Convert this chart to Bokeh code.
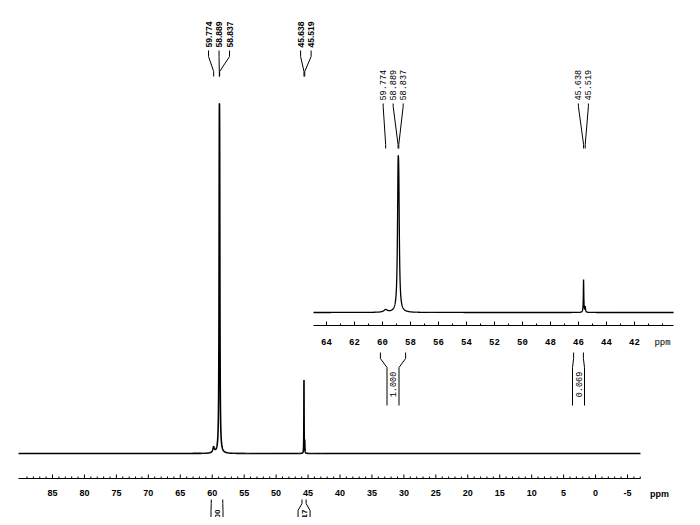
import numpy as np
from bokeh.plotting import figure
from bokeh.models import Range1d
from bokeh.core.properties import value
from bokeh.embed import file_html
from bokeh.resources import INLINE

# ---------------- data ----------------
peak_ppm = [59.774, 58.889, 58.837, 45.638, 45.519]
peak_height = [0.014, 0.60, 0.52, 0.185, 0.03]
peak_fwhm = [0.30, 0.10, 0.10, 0.04, 0.05]
peak_labels = ["59.774", "58.889", "58.837", "45.638", "45.519"]
peak_groups = [[0, 1, 2], [3, 4]]

main_ticks = [85, 80, 75, 70, 65, 60, 55, 50, 45, 40, 35, 30, 25, 20, 15, 10, 5, 0, -5]
main_tick_labels = ["85", "80", "75", "70", "65", "60", "55", "50", "45", "40",
                    "35", "30", "25", "20", "15", "10", "5", "0", "-5"]
main_unit_at = -10
inset_ticks = [64, 62, 60, 58, 56, 54, 52, 50, 48, 46, 44, 42]
inset_tick_labels = ["64", "62", "60", "58", "56", "54", "52", "50", "48", "46", "44", "42"]
inset_unit_at = 40

integral_start = [60.15, 46.35]
integral_end = [58.35, 45.65]
integral_labels = ["1.000", "0.069"]
main_integral_start = [60.15, 45.95]
main_integral_end = [58.35, 45.30]
main_integral_labels = ["1.000", "0.117"]

main_window = [90.32, -7.03]
inset_window = [64.93, 39.21]

# ---------------- layout helpers (reference pixel geometry) ----------------
W, H = 692, 517
M_SCALE, M_P0, M_X0 = 6.3889, 85.0, 52.0     # px per ppm, anchor ppm, anchor px
I_SCALE, I_P0, I_X0 = 14.0, 64.0, 326.0


def m_px(p):
    return M_X0 + (M_P0 - p) * M_SCALE


def m_ppm(px):
    return M_P0 - (px - M_X0) / M_SCALE


def i_px(p):
    return I_X0 + (I_P0 - p) * I_SCALE


def i_ppm(px):
    return I_P0 - (px - I_X0) / I_SCALE


def ym(ry):
    return (453.0 - ry) / 350.0


def yi(ry):
    return (312.0 - ry) / 157.0


def spectrum(x):
    y = np.zeros_like(x)
    for c, h, w in zip(peak_ppm, peak_height, peak_fwhm):
        y += h / (1.0 + (2.0 * (x - c) / w) ** 2)
    return y


norm = spectrum(np.linspace(58.5, 59.2, 7001)).max()

p = figure(width=W, height=H,
           x_range=Range1d(m_ppm(0), m_ppm(W)),
           y_range=Range1d(ym(H), ym(0)),
           output_backend="svg", toolbar_location=None,
           x_axis_location=None, y_axis_location=None,
           min_border=0, outline_line_color=None,
           background_fill_color="white", border_fill_color="white")
p.extra_x_ranges = {"ix": Range1d(i_ppm(0), i_ppm(W))}
p.extra_y_ranges = {"iy": Range1d(yi(H), yi(0))}
p.grid.visible = False

SANS = value("Liberation Sans")
MONO = value("Liberation Mono")

# ---------------- main spectrum ----------------
xm = np.union1d(np.arange(main_window[1], main_window[0], 0.004), peak_ppm)[::-1]
p.line(xm, spectrum(xm) / norm, line_color="black", line_width=1.6)

# main axis
p.segment(x0=[main_window[0]], y0=[ym(478)], x1=[main_window[1]], y1=[ym(478)],
          line_color="black", line_width=1)
p.segment(x0=main_ticks, y0=[ym(478)] * len(main_ticks),
          x1=main_ticks, y1=[ym(474)] * len(main_ticks),
          line_color="black", line_width=1)
minor_m = [v for v in range(90, -8, -1) if v % 5 != 0]
p.segment(x0=minor_m, y0=[ym(478)] * len(minor_m),
          x1=minor_m, y1=[ym(476)] * len(minor_m),
          line_color="black", line_width=1)
p.text(x=main_ticks, y=[ym(492)] * len(main_ticks), text=main_tick_labels,
       text_font=SANS, text_font_size="9px", text_font_style="bold",
       text_align="center", text_baseline="middle", text_color="black")
p.text(x=[main_unit_at], y=[ym(493)], text=["ppm"],
       text_font=SANS, text_font_size="9px", text_font_style="bold",
       text_align="center", text_baseline="middle", text_color="black")

# main peak labels with leader lines
lx, ly, lt, lxs, lys = [], [], [], [], []
for g in peak_groups:
    pxs = [m_px(peak_ppm[i]) for i in g]
    c = float(np.mean(pxs)) + 1.5
    n = len(g)
    for k, i in enumerate(g):
        lpx = c + (k - (n - 1) / 2) * 10.5
        lx.append(m_ppm(lpx))
        ly.append(ym(47))
        lt.append(peak_labels[i])
        lxs.append([m_ppm(lpx), m_ppm(lpx), peak_ppm[i], peak_ppm[i]])
        lys.append([ym(50), ym(56), ym(71), ym(76)])
p.text(x=lx, y=ly, text=lt, angle=np.pi / 2,
       text_font=SANS, text_font_size="8.5px", text_font_style="bold",
       text_align="left", text_baseline="middle", text_color="black")
p.multi_line(xs=lxs, ys=lys, line_color="black", line_width=1)

# main integrals (cut by the page bottom, as in the reference)
bx, by, tx, ty = [], [], [], []
for a, b, lab in zip(main_integral_start, main_integral_end, main_integral_labels):
    ca = m_px(a)
    cb = m_px(b)
    cc = (ca + cb) / 2
    for edge, inner in ((ca, cc - 6), (cb, cc + 6)):
        bx.append([m_ppm(edge), m_ppm(edge), m_ppm(inner), m_ppm(inner)])
        by.append([ym(499), ym(503), ym(510), ym(530)])
    tx.append(m_ppm(cc))
    ty.append(ym(509))
p.multi_line(xs=bx, ys=by, line_color="black", line_width=1)
p.text(x=tx, y=ty, text=main_integral_labels, angle=np.pi / 2,
       text_font=SANS, text_font_size="8px", text_font_style="bold",
       text_align="right", text_baseline="middle", text_color="black")

# ---------------- inset ----------------
xi = np.union1d(np.arange(inset_window[1], inset_window[0], 0.004), peak_ppm)[::-1]
p.line(xi, spectrum(xi) / norm, line_color="black", line_width=1.3,
       x_range_name="ix", y_range_name="iy")

p.segment(x0=[inset_window[0]], y0=[yi(325)], x1=[inset_window[1]], y1=[yi(325)],
          line_color="black", line_width=1, x_range_name="ix", y_range_name="iy")
p.segment(x0=inset_ticks, y0=[yi(325)] * len(inset_ticks),
          x1=inset_ticks, y1=[yi(321)] * len(inset_ticks),
          line_color="black", line_width=1, x_range_name="ix", y_range_name="iy")
minor_i = [v for v in range(64, 39, -1) if v % 2 != 0] + [40]
p.segment(x0=minor_i, y0=[yi(325)] * len(minor_i),
          x1=minor_i, y1=[yi(323)] * len(minor_i),
          line_color="black", line_width=1, x_range_name="ix", y_range_name="iy")
p.text(x=inset_ticks, y=[yi(341)] * len(inset_ticks), text=inset_tick_labels,
       text_font=MONO, text_font_size="9px", text_font_style="bold",
       text_align="center", text_baseline="middle", text_color="black",
       x_range_name="ix", y_range_name="iy")
p.text(x=[inset_unit_at], y=[yi(342)], text=["ppm"],
       text_font=MONO, text_font_size="9px",
       text_align="center", text_baseline="middle", text_color="black",
       x_range_name="ix", y_range_name="iy")

# inset peak labels
lx, ly, lt, lxs, lys = [], [], [], [], []
for g in peak_groups:
    pxs = [i_px(peak_ppm[i]) for i in g]
    c = float(np.mean(pxs)) - 1.0
    n = len(g)
    for k, i in enumerate(g):
        lpx = c + (k - (n - 1) / 2) * 10.0
        lx.append(i_ppm(lpx))
        ly.append(yi(100))
        lt.append(peak_labels[i])
        lxs.append([i_ppm(lpx), i_ppm(lpx), peak_ppm[i], peak_ppm[i]])
        lys.append([yi(103), yi(106), yi(144), yi(148)])
p.text(x=lx, y=ly, text=lt, angle=np.pi / 2,
       text_font=MONO, text_font_size="8.5px",
       text_align="left", text_baseline="middle", text_color="black",
       x_range_name="ix", y_range_name="iy")
p.multi_line(xs=lxs, ys=lys, line_color="black", line_width=1,
             x_range_name="ix", y_range_name="iy")

# inset integrals
bx, by, tx, ty = [], [], [], []
for a, b in zip(integral_start, integral_end):
    ca = i_px(a)
    cb = i_px(b)
    cc = (ca + cb) / 2
    for edge, inner in ((ca, cc - 6), (cb, cc + 6)):
        bx.append([i_ppm(edge), i_ppm(edge), i_ppm(inner), i_ppm(inner)])
        by.append([yi(352), yi(358), yi(367), yi(405)])
    tx.append(i_ppm(cc))
    ty.append(yi(384))
p.multi_line(xs=bx, ys=by, line_color="black", line_width=1,
             x_range_name="ix", y_range_name="iy")
p.text(x=tx, y=ty, text=integral_labels, angle=np.pi / 2,
       text_font=MONO, text_font_size="8.5px",
       text_align="center", text_baseline="middle", text_color="black",
       x_range_name="ix", y_range_name="iy")

open("out.html", "w").write(file_html(p, INLINE))
